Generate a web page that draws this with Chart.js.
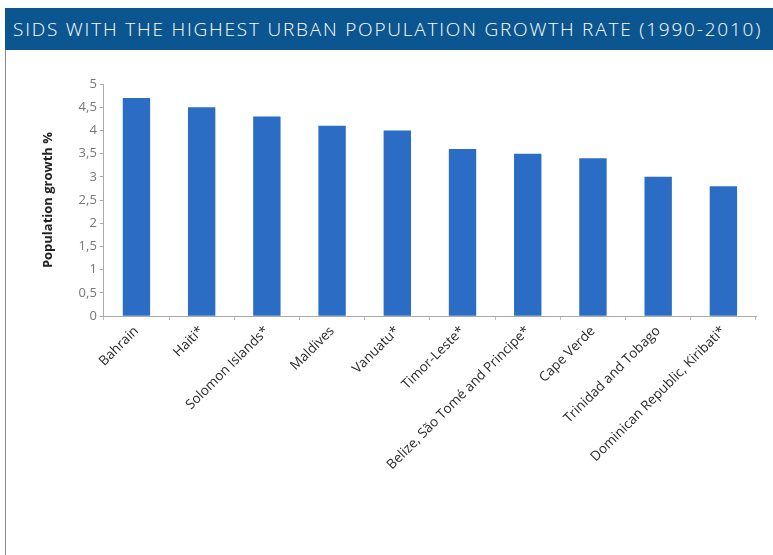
<!DOCTYPE html>
<html>
<head>
<meta charset="utf-8">
<script src="https://cdn.jsdelivr.net/npm/chart.js@4.4.1/dist/chart.umd.min.js"></script>
<style>
  html, body { margin: 0; padding: 0; background: #fff; }
  body { width: 773px; height: 555px; position: relative; overflow: hidden; font-family: "Open Sans", "Liberation Sans", sans-serif; }
  #title {
    position: absolute; left: 5px; top: 8px; width: 768px; height: 42px;
    background: #0b5590; color: #fff; font-size: 19px; font-weight: 300; line-height: 42px;
    padding-left: 8px; box-sizing: border-box; letter-spacing: 1.8px; white-space: nowrap;
  }
  #frame { position: absolute; left: 5px; top: 50px; width: 1px; height: 505px; background: #8a8a8a; }
  #wrap { position: absolute; left: 10px; top: 60px; width: 755px; height: 480px; }
</style>
</head>
<body>
<div id="title">SIDS WITH THE HIGHEST URBAN POPULATION GROWTH RATE (1990-2010)</div>
<div id="frame"></div>
<div id="wrap"><canvas id="chart"></canvas></div>
<script>
// --- data ---
const COUNTRIES = ['Bahrain', 'Haiti*', 'Solomon Islands*', 'Maldives', 'Vanuatu*', 'Timor-Leste*',
  'Belize, São Tomé and Principe*', 'Cape Verde', 'Trinidad and Tobago', 'Dominican Republic, Kiribati*'];
const GROWTH = [4.7, 4.5, 4.3, 4.1, 4.0, 3.6, 3.5, 3.4, 3.0, 2.8];
const Y_TITLE = 'Population growth %';

function barFill(context) {
  const chart = context.chart;
  const el = context.element;
  if (!chart.chartArea || !el || !el.width) return '#2b6cc4';
  const x0 = el.x - el.width / 2, x1 = el.x + el.width / 2;
  const g = chart.ctx.createLinearGradient(x0, 0, x1, 0);
  g.addColorStop(0, '#2460b2');
  g.addColorStop(0.5, '#3474cc');
  g.addColorStop(1, '#2460b2');
  return g;
}

const ctx = document.getElementById('chart').getContext('2d');
new Chart(ctx, {
  type: 'bar',
  data: {
    labels: COUNTRIES,
    datasets: [{
      data: GROWTH,
      backgroundColor: barFill,
      borderWidth: 0,
      categoryPercentage: 1,
      barPercentage: 0.42
    }]
  },
  options: {
    responsive: true,
    maintainAspectRatio: false,
    animation: false,
    layout: { padding: { top: 24, right: 9, left: 26, bottom: 64 } },
    plugins: { legend: { display: false }, tooltip: { enabled: false } },
    scales: {
      x: {
        grid: { display: true, drawOnChartArea: false, offset: true, color: '#bbb', tickLength: 4 },
        border: { color: '#aaa' },
        ticks: {
          minRotation: 45, maxRotation: 45, autoSkip: false,
          color: '#2a2a2a', font: { family: 'Open Sans', size: 13.5 }
        }
      },
      y: {
        min: 0, max: 5,
        grid: { display: true, drawOnChartArea: false, color: '#aaa', tickLength: 4 },
        border: { color: '#aaa' },
        ticks: {
          stepSize: 0.5, color: '#777', font: { family: 'Open Sans', size: 13 },
          callback: v => String(v).replace('.', ',')
        },
        title: {
          display: true, text: Y_TITLE, color: '#222',
          font: { family: 'Open Sans', size: 13, weight: 'bold' }, padding: { bottom: 20 }
        }
      }
    }
  }
});
</script>
</body>
</html>
